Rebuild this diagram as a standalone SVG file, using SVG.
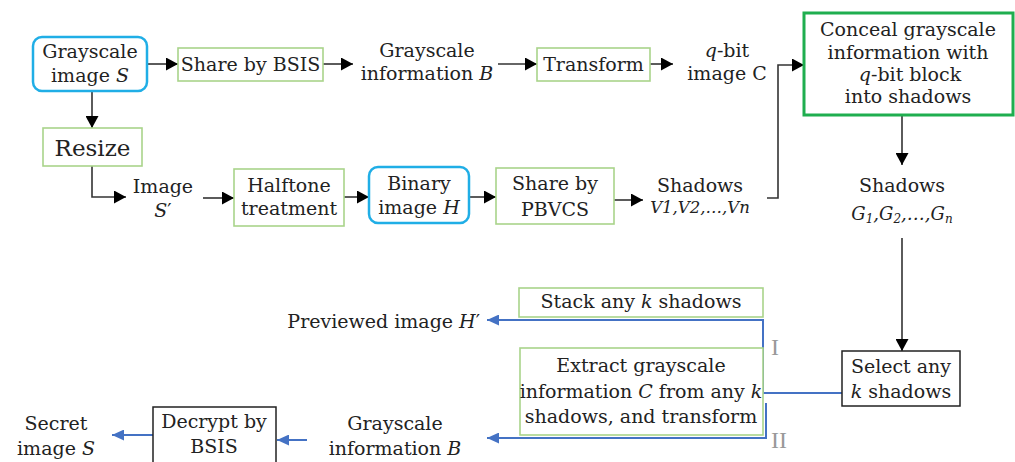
<svg xmlns="http://www.w3.org/2000/svg" width="1015" height="462" viewBox="0 0 1015 462">
<defs>
<marker id="ab" markerUnits="userSpaceOnUse" markerWidth="13" markerHeight="13" refX="12" refY="6.5" orient="auto"><path d="M0,0 L12,6.5 L0,13 z" fill="#000"/></marker>
<marker id="au" markerUnits="userSpaceOnUse" markerWidth="13" markerHeight="11" refX="12" refY="5.5" orient="auto"><path d="M0,0 L12,5.5 L0,11 z" fill="#4472c4"/></marker>
<style>
text{font-family:"DejaVu Serif","Liberation Serif",serif;font-size:19px;fill:#222;text-anchor:middle}
.i{font-style:italic}
.blue{fill:#fff;stroke:#20aee6;stroke-width:2.5}
.grn{fill:#fff;stroke:#a9d48a;stroke-width:1.6}
.dg{fill:#fff;stroke:#1fae4f;stroke-width:3}
.blk{fill:#fff;stroke:#222;stroke-width:1.5}
.cb{fill:none;stroke:#333;stroke-width:1.6;marker-end:url(#ab)}
.cl{fill:none;stroke:#333;stroke-width:1.6}
.cu{fill:none;stroke:#4472c4;stroke-width:2;marker-end:url(#au)}
.cul{fill:none;stroke:#4472c4;stroke-width:2}
.rn{fill:#999;font-family:"Liberation Serif",serif;font-size:24px}
</style>
</defs>
<g id="connectors">
<path class="cb" d="M147,64 H178"/>
<path class="cb" d="M323,64 H353"/>
<path class="cb" d="M498,64 H537"/>
<path class="cb" d="M650,64 H673"/>
<path class="cb" d="M767,198 H778 V65 H804"/>
<path class="cb" d="M92,91 V128"/>
<path class="cb" d="M92,166 V197 H126"/>
<path class="cb" d="M203,198 H234"/>
<path class="cb" d="M344,197 H369"/>
<path class="cb" d="M469,197 H496"/>
<path class="cb" d="M614,200 H643"/>
<path class="cb" d="M902,115 V165"/>
<path class="cb" d="M902,238 V351"/>
<path class="cul" d="M842,393 H763"/>
<path class="cu" d="M763,393 V320 H487"/>
<path class="cu" d="M766,403 V438 H487"/>
<path class="cu" d="M307,440 H277"/>
<path class="cu" d="M153,435 H112"/>
</g>
<g id="grayscale-image-s"><rect class="blue" x="33" y="37" width="114" height="54" rx="9"/><text x="90" y="58">Grayscale</text><text x="90" y="82">image <tspan class="i">S</tspan></text></g>
<g id="share-bsis"><rect class="grn" x="178" y="48" width="145" height="33"/><text x="250.5" y="71">Share by BSIS</text></g>
<g id="grayscale-info-b"><text x="427" y="57">Grayscale</text><text x="427" y="80">information <tspan class="i">B</tspan></text></g>
<g id="transform"><rect class="grn" x="537" y="48" width="113" height="33"/><text x="593.5" y="71">Transform</text></g>
<g id="qbit-image-c"><text x="727" y="57"><tspan class="i">q</tspan>-bit</text><text x="727" y="80">image C</text></g>
<g id="conceal"><rect class="dg" x="804" y="13" width="209" height="102"/><text x="908" y="36">Conceal grayscale</text><text x="908" y="59">information with</text><text x="910" y="81"><tspan class="i">q</tspan>-bit block</text><text x="908" y="103">into shadows</text></g>
<g id="resize"><rect class="grn" x="43" y="128" width="99" height="38"/><text x="92.5" y="156" style="font-size:23px">Resize</text></g>
<g id="image-s-prime"><text x="163" y="193">Image</text><text x="163" y="217"><tspan class="i">S</tspan>′</text></g>
<g id="halftone"><rect class="grn" x="234" y="169" width="110" height="57"/><text x="289" y="192">Halftone</text><text x="289" y="215">treatment</text></g>
<g id="binary-image-h"><rect class="blue" x="369" y="167" width="100" height="56" rx="9"/><text x="419" y="190">Binary</text><text x="419" y="214">image <tspan class="i">H</tspan></text></g>
<g id="share-pbvcs"><rect class="grn" x="496" y="168" width="118" height="56"/><text x="555" y="190">Share by</text><text x="555" y="216">PBVCS</text></g>
<g id="shadows-v"><text x="700" y="192">Shadows</text><text x="700" y="213" class="i" style="font-size:16.5px">V1,V2,…,Vn</text></g>
<g id="shadows-g"><text x="902" y="192">Shadows</text><text x="902" y="220" class="i" style="font-size:18px">G<tspan dy="3" style="font-size:12px">1</tspan><tspan dy="-3">,G</tspan><tspan dy="3" style="font-size:12px">2</tspan><tspan dy="-3">,…,G</tspan><tspan dy="3" style="font-size:12px">n</tspan></text></g>
<g id="select-k"><rect class="blk" x="842" y="351" width="118" height="55"/><text x="901" y="373">Select any</text><text x="901" y="398"><tspan class="i">k</tspan> shadows</text></g>
<g id="stack-k"><rect class="grn" x="519" y="288" width="244" height="29"/><text x="641" y="308">Stack any <tspan class="i">k</tspan> shadows</text></g>
<g id="extract"><rect class="grn" x="520" y="348" width="243" height="87"/><text x="641" y="372">Extract grayscale</text><text x="641" y="398">information <tspan class="i">C</tspan> from any <tspan class="i">k</tspan></text><text x="641" y="423">shadows, and transform</text></g>
<g id="previewed-h"><text x="480" y="328" style="text-anchor:end">Previewed image <tspan class="i">H</tspan>′</text></g>
<g id="grayscale-info-b2"><text x="395" y="430">Grayscale</text><text x="395" y="455">information <tspan class="i">B</tspan></text></g>
<g id="decrypt"><rect class="blk" x="153" y="407" width="123" height="62"/><text x="214" y="428">Decrypt by</text><text x="214" y="453">BSIS</text></g>
<g id="secret-s"><text x="56" y="430">Secret</text><text x="56" y="455">image <tspan class="i">S</tspan></text></g>
<g id="labels"><text class="rn" x="775" y="355">I</text><text class="rn" x="779" y="448">II</text></g>
</svg>
